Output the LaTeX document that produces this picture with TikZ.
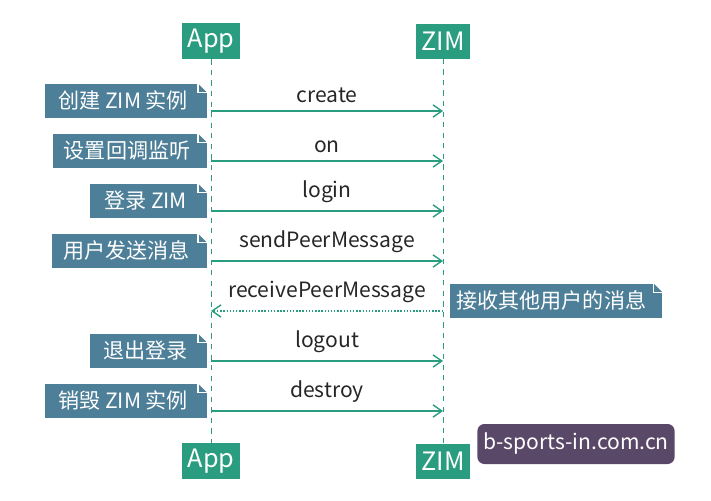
\documentclass[tikz,border=0pt]{standalone}
\usepackage{fontspec}
\setmainfont{Noto Sans CJK SC}
\usetikzlibrary{positioning,calc,arrows.meta}
\definecolor{teal1}{HTML}{2A9D80}
\definecolor{note}{HTML}{4E7F98}
\definecolor{mark}{HTML}{5A4868}
\tikzset{
  head/.style={fill=teal1,text=white,minimum width=1.1cm,minimum height=0.7cm,font=\Large},
  notebox/.style={fill=note,text=white,minimum height=0.68cm,font=\large,inner xsep=0pt},
  msg/.style={draw=teal1,thick,-{Straight Barb[length=5pt,width=7pt]}},
  lbl/.style={font=\large,text=black!85},
}
\newcommand{\fold}[1]{%
  \fill[white] ($(#1.north east)+(-0.18cm,0)$) -- ++(0.18cm,-0.18cm) -- ++(0,0.18cm) -- cycle;
  \draw[white,thick] ($(#1.north east)+(-0.18cm,0)$) -- ++(0,-0.18cm) -- ++(0.18cm,0);}
\begin{document}
\begin{tikzpicture}[x=0.02cm,y=-0.02cm]
  \useasboundingbox (0,0) rectangle (711,501);
  % heads
  \node[head] (apptop) at (211,41) {App};
  \node[head] (zimtop) at (443,41) {ZIM};
  \node[head] (appbot) at (211,461) {App};
  \node[head] (zimbot) at (443,461) {ZIM};
  \draw[teal1,dashed] (apptop) -- (appbot);
  \draw[teal1,dashed] (zimtop) -- (zimbot);
  % messages
  \foreach \y/\txt/\nt/\nn/\w in {111/create/创建 ZIM 实例/a/3.24,161/on/设置回调监听/b/3.08,211/login/登录 ZIM/c/2.34,261/sendPeerMessage/用户发送消息/d/3.1,361/logout/退出登录/f/2.34,411/destroy/销毁 ZIM 实例/g/3.24}{
    \coordinate (s\nn) at (211,\y);
    \coordinate (e\nn) at (443,\y);
    \draw[msg] (s\nn) -- (e\nn) node[lbl,midway,above=1pt] {\txt};
    \node[notebox,anchor=south east,minimum width=\w cm] (n\nn) at (207,\y+7) {\hspace*{-0.1cm}\nt};
    \fold{n\nn}
  }
  \coordinate (se) at (443,311);
  \coordinate (ee) at (211,311);
  \draw[msg,densely dotted] (se) -- (ee) node[lbl,midway,above=1pt] {receivePeerMessage};
  \node[notebox,anchor=south west,minimum width=4.24cm] (ne) at (450,318) {\hspace*{-0.2cm}接收其他用户的消息};
  \fold{ne}
  % watermark
  \node[fill=mark,text=white,rounded corners=4pt,minimum width=3.94cm,minimum height=0.8cm,font=\large] (wm) at (576,444) {b-sports-in.com.cn};
\end{tikzpicture}
\end{document}
